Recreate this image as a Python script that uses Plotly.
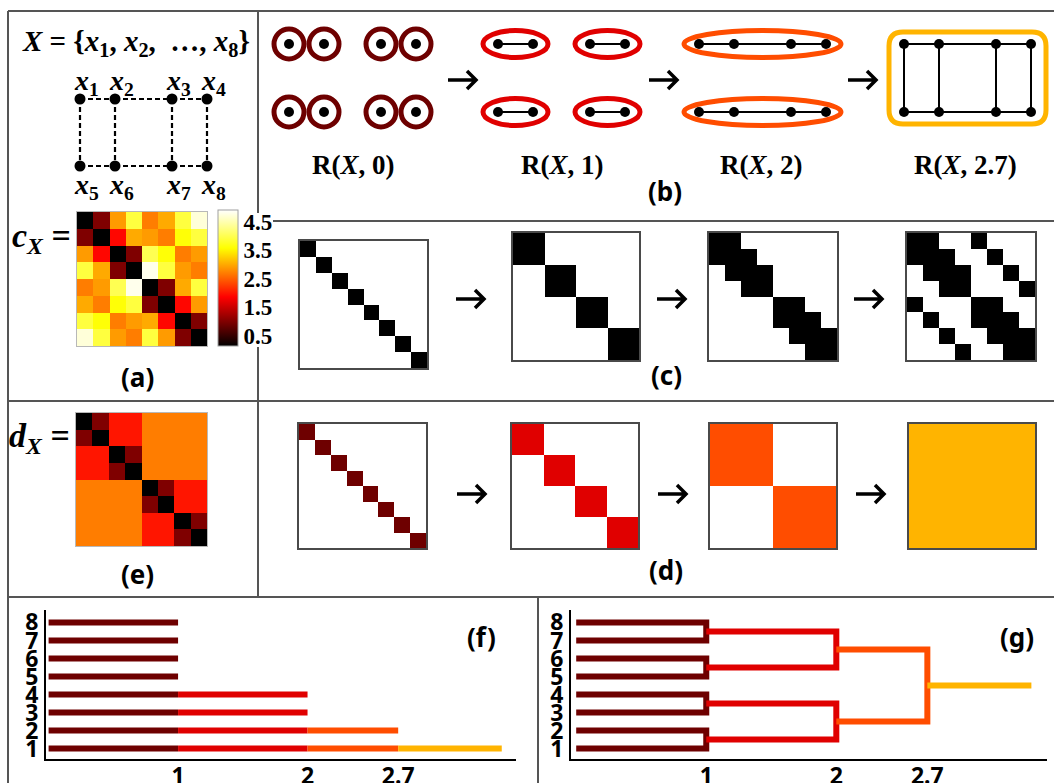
import plotly.graph_objects as go

W, H = 1054, 783

# ---------------------------------------------------------------- data
point_ids = [1, 2, 3, 4, 5, 6, 7, 8]

# pairwise cost c_X between the points x1..x8 (symmetric, zero diagonal)
c_rows = [
    [0.0, 1.0, 2.9, 3.9, 2.7, 3.0, 3.9, 4.7],
    [1.0, 0.0, 1.9, 3.0, 2.9, 2.7, 3.6, 3.9],
    [2.9, 1.9, 0.0, 1.0, 4.0, 3.6, 2.7, 2.9],
    [3.9, 3.0, 1.0, 0.0, 4.8, 3.9, 2.9, 2.7],
    [2.7, 2.9, 4.0, 4.8, 0.0, 1.0, 3.0, 3.9],
    [3.0, 2.7, 3.6, 3.9, 1.0, 0.0, 1.9, 2.9],
    [3.9, 3.6, 2.7, 2.9, 3.0, 1.9, 0.0, 1.0],
    [4.7, 3.9, 2.9, 2.7, 3.9, 2.9, 1.0, 0.0],
]

scales = [0, 1, 2, 2.7]                 # resolutions r of R(X, r)
scale_text = ["0", "1", "2", "2.7"]
bar_end = 3.5                           # right end of the last bar / root branch
state_colors = ["#6e0000", "#e00000", "#ff4d00", "#ffb400"]

heat_range = [0.15, 4.9]
hot_scale = [[0.0, "#000000"], [0.36, "#ff0000"], [0.72, "#ffff00"], [1.0, "#ffffff"]]
cbar_ticks = [0.5, 1.5, 2.5, 3.5, 4.5]
cbar_text = ["0.5", "1.5", "2.5", "3.5", "4.5"]
axis_ticks = [1, 2, 2.7]
axis_ticktext = ["1", "2", "2.7"]

SERIF = "Liberation Serif"
SANS = "Noto Sans"
N = len(point_ids)


# ------------------------------------------------------- derived structures
def components(r):
    parent = list(range(N))

    def find(a):
        while parent[a] != a:
            parent[a] = parent[parent[a]]
            a = parent[a]
        return a

    for i in range(N):
        for j in range(i + 1, N):
            if c_rows[i][j] <= r:
                parent[find(i)] = find(j)
    groups = {}
    for i in range(N):
        groups.setdefault(find(i), []).append(i)
    return sorted(groups.values(), key=lambda g: g[0])


def edges_at(r):
    return [(i, j) for i in range(N) for j in range(i + 1, N) if c_rows[i][j] <= r]


partitions = [components(r) for r in scales]


def merge_scale(i, j):
    for s, part in zip(scales, partitions):
        if any(i in g and j in g for g in part):
            return s
    return bar_end


d_rows = [[merge_scale(i, j) for j in range(N)] for i in range(N)]

# ------------------------------------------------------------ layout helpers
layout = dict(
    width=W, height=H, autosize=False, margin=dict(l=0, r=0, t=0, b=0, autoexpand=False),
    paper_bgcolor="white", plot_bgcolor="rgba(0,0,0,0)", showlegend=False,
    barmode="overlay", shapes=[], annotations=[],
)
traces = []
counter = [0]


def new_axes(box, xrange, yrange, xopt=None, yopt=None):
    counter[0] += 1
    k = counter[0]
    s = "" if k == 1 else str(k)
    x0, x1, y0, y1 = box
    base = dict(showgrid=False, zeroline=False, ticks="", showticklabels=False,
                fixedrange=True, automargin=False)
    xa = dict(base, domain=[x0 / W, x1 / W], range=xrange, anchor="y" + s)
    ya = dict(base, domain=[1 - y1 / H, 1 - y0 / H], range=yrange, anchor="x" + s)
    xa.update(xopt or {})
    ya.update(yopt or {})
    layout["xaxis" + s] = xa
    layout["yaxis" + s] = ya
    return "x" + s, "y" + s


def frame(color, width):
    return dict(showline=True, mirror=True, linecolor=color, linewidth=width)


def matrix(box, z, colorscale, zmin, zmax, fcolor, fwidth, **extra):
    xa, ya = new_axes(box, [0.5, N + 0.5], [N + 0.5, 0.5],
                      frame(fcolor, fwidth), frame(fcolor, fwidth))
    opts = dict(showscale=False)
    opts.update(extra)
    traces.append(go.Heatmap(z=z, x=point_ids, y=point_ids, colorscale=colorscale,
                             zmin=zmin, zmax=zmax, xaxis=xa, yaxis=ya,
                             hoverinfo="skip", **opts))


# ------------------------------------------------------------- (a) c_X heatmap
matrix((77, 207, 212, 346), c_rows, hot_scale, heat_range[0], heat_range[1], "#b8b8b8", 1,
       showscale=True,
       colorbar=dict(x=218 / W, xanchor="left", xpad=0, y=1 - 278 / H, yanchor="middle",
                     ypad=0, len=136, lenmode="pixels", thickness=20, thicknessmode="pixels",
                     outlinecolor="#a0a0a0", outlinewidth=1, tickvals=cbar_ticks,
                     ticktext=cbar_text, ticks="",
                     tickfont=dict(family=SERIF, size=23, color="black", weight="bold")))

# ------------------------------------------------------------- (e) d_X heatmap
matrix((76, 207, 413, 546), d_rows, hot_scale, heat_range[0], heat_range[1], "#b8b8b8", 1)

# ------------------------------------------------ (c) relations c_X <= r
c_boxes = [(300, 427, 241, 368), (513, 639, 233, 360), (709, 837, 233, 360), (907, 1035, 233, 360)]
for r, box in zip(scales, c_boxes):
    z = [[1 if c_rows[i][j] <= r else 0 for j in range(N)] for i in range(N)]
    matrix(box, z, [[0, "#ffffff"], [1, "#000000"]], 0, 1, "#4a4a4a", 2)

# ------------------------------------------------ (d) relations d_X <= r
d_boxes = [(299, 426, 424, 548), (512, 638, 424, 548), (710, 836, 424, 548), (909, 1035, 424, 548)]
for r, col, box in zip(scales, state_colors, d_boxes):
    z = [[1 if d_rows[i][j] <= r else 0 for j in range(N)] for i in range(N)]
    matrix(box, z, [[0, "#ffffff"], [1, col]], 0, 1, "#4a4a4a", 2)

# ------------------------------------------------ (f) barcode / (g) dendrogram
tick_font = dict(family=SANS, size=23, color="black", weight="bold")


def tree_axes(box, xrange):
    line = dict(showline=True, linecolor="black", linewidth=2, mirror=False,
                showticklabels=True, tickfont=tick_font)
    xo = dict(line, tickvals=axis_ticks, ticktext=axis_ticktext, ticklabelstandoff=-5)
    yo = dict(line, tickvals=point_ids, ticktext=[str(p) for p in point_ids], ticklabelstandoff=1)
    return new_axes(box, xrange, [0.42, 8.69], xo, yo)


fx, fy = tree_axes((46, 516, 610, 759), [-0.02, 3.61])
ends = scales[1:] + [bar_end]
for k, part in enumerate(partitions):
    rows = point_ids[:len(part)]
    traces.append(go.Bar(orientation="h", y=rows, x=[ends[k] - scales[k]] * len(rows),
                         base=[scales[k]] * len(rows), width=0.33,
                         marker=dict(color=state_colors[k], line=dict(width=0)),
                         xaxis=fx, yaxis=fy, hoverinfo="skip"))

gx, gy = tree_axes((571, 1047, 610, 759), [-0.04, 3.62])
nodes = {tuple(g): (0.0, float(g[0] + 1)) for g in partitions[0]}   # cluster -> (height, y)
for k in range(1, len(scales)):
    new_nodes = {}
    for g in partitions[k]:
        kids = sorted([c for c in nodes if set(c) <= set(g)], key=lambda c: nodes[c][1])
        if len(kids) == 1:
            new_nodes[tuple(g)] = nodes[kids[0]]
            continue
        h = scales[k]
        (ha, ya), (hb, yb) = nodes[kids[0]], nodes[kids[-1]]
        xs = [ha, h, h, hb]
        ys = [ya, ya, yb, yb]
        for mid in kids[1:-1]:
            hm, ym = nodes[mid]
            xs += [None, hm, h]
            ys += [None, ym, ym]
        traces.append(go.Scatter(x=xs, y=ys, mode="lines",
                                 line=dict(color=state_colors[k - 1], width=6),
                                 xaxis=gx, yaxis=gy, hoverinfo="skip"))
        new_nodes[tuple(g)] = (h, sum(nodes[c][1] for c in kids) / len(kids))
    nodes = new_nodes
root_h, root_y = list(nodes.values())[0]
traces.append(go.Scatter(x=[root_h, bar_end], y=[root_y, root_y], mode="lines",
                         line=dict(color=state_colors[-1], width=6),
                         xaxis=gx, yaxis=gy, hoverinfo="skip"))

# ------------------------------------------ pixel overlay for diagrams and text
px, py = new_axes((0, W, 0, H), [0, W], [H, 0], dict(visible=False), dict(visible=False))
shapes = layout["shapes"]
notes = layout["annotations"]

node_dx = [0, 35, 92, 127]


def node_pos(bx, by, dy, i):
    return bx + node_dx[i % 4], by + (i // 4) * dy


def seg(x0, y0, x1, y1, color="#555555", width=2):
    shapes.append(dict(type="line", xref=px, yref=py, x0=x0, y0=y0, x1=x1, y1=y1,
                       line=dict(color=color, width=width), layer="above"))


def arrow(cx, cy):
    x0, x1 = cx - 14, cx + 14
    path = f"M{x0},{cy} L{x1},{cy} M{x1 - 9},{cy - 9} L{x1},{cy} L{x1 - 9},{cy + 9}"
    shapes.append(dict(type="path", xref=px, yref=py, path=path,
                       line=dict(color="black", width=3.5)))


def text(x, y, s, size, family, **kw):
    notes.append(dict(x=x, y=y, xref=px, yref=py, text=s, showarrow=False,
                      font=dict(family=family, size=size, color="black"),
                      xanchor=kw.get("xanchor", "center"), yanchor="middle"))


# panel borders
seg(8, 11, W, 11)
seg(8, 11, 8, H)
seg(258, 11, 258, 213)
seg(258, 347, 258, 597)
seg(273, 221, W, 221)
seg(8, 401, W, 401)
seg(8, 597, W, 597)
seg(538, 597, 538, H)

# (a) the point set and its neighbourhood graph
text(136, 43, "<b><i>X</i> = {<i>x</i><sub>1</sub>, <i>x</i><sub>2</sub>, &nbsp;…, "
     "<i>x</i><sub>8</sub>}</b>", 29, SERIF)
ax_, ay_, ady = 80, 99, 67
gx_e, gy_e = [], []
for i, j in edges_at(scales[-1]):
    (x0, y0), (x1, y1) = node_pos(ax_, ay_, ady, i), node_pos(ax_, ay_, ady, j)
    gx_e += [x0, x1, None]
    gy_e += [y0, y1, None]
traces.append(go.Scatter(x=gx_e, y=gy_e, mode="lines",
                         line=dict(color="black", width=2.2, dash="5px,3px"),
                         xaxis=px, yaxis=py, hoverinfo="skip"))
pts = [node_pos(ax_, ay_, ady, i) for i in range(N)]
traces.append(go.Scatter(x=[p[0] for p in pts], y=[p[1] for p in pts], mode="markers",
                         marker=dict(color="black", size=11), xaxis=px, yaxis=py, hoverinfo="skip"))
for i, (x, y) in enumerate(pts):
    text(x + 6, y - 17 if i < 4 else y + 20, f"<b><i>x</i><sub>{point_ids[i]}</sub></b>", 28, SERIF)

text(41, 238, "<b><i>c</i><sub><i>X</i></sub> =</b>", 34, SERIF)
text(39, 438, "<b><i>d</i><sub><i>X</i></sub> =</b>", 34, SERIF)

# (b) the relations R(X, r) drawn on the graph
b_base = [289, 498, 699, 904]
b_y, b_dy = 44, 68
b_label_x = [353, 562, 761, 965]
for k, r in enumerate(scales):
    col = state_colors[k]
    bx = b_base[k]
    for g in partitions[k]:
        ps = [node_pos(bx, b_y, b_dy, i) for i in g]
        xs = [p[0] for p in ps]
        ys = [p[1] for p in ps]
        if len(set(ys)) > 1:
            x0, x1, y0, y1, rr = min(xs) - 15, max(xs) + 15, min(ys) - 12, max(ys) + 12, 14
            path = (f"M{x0 + rr},{y0} L{x1 - rr},{y0} Q{x1},{y0} {x1},{y0 + rr} "
                    f"L{x1},{y1 - rr} Q{x1},{y1} {x1 - rr},{y1} L{x0 + rr},{y1} "
                    f"Q{x0},{y1} {x0},{y1 - rr} L{x0},{y0 + rr} Q{x0},{y0} {x0 + rr},{y0} Z")
            shapes.append(dict(type="path", xref=px, yref=py, path=path,
                               line=dict(color=col, width=5), layer="below"))
        else:
            cx = (min(xs) + max(xs)) / 2
            hw = (max(xs) - min(xs)) / 2 + 15
            hh = 15 if len(g) == 1 else 13.5
            shapes.append(dict(type="circle", xref=px, yref=py, x0=cx - hw, x1=cx + hw,
                               y0=ys[0] - hh, y1=ys[0] + hh,
                               line=dict(color=col, width=5), layer="below"))
    ex, ey = [], []
    for i, j in edges_at(r):
        (x0, y0), (x1, y1) = node_pos(bx, b_y, b_dy, i), node_pos(bx, b_y, b_dy, j)
        ex += [x0, x1, None]
        ey += [y0, y1, None]
    if ex:
        traces.append(go.Scatter(x=ex, y=ey, mode="lines", line=dict(color="black", width=2),
                                 xaxis=px, yaxis=py, hoverinfo="skip"))
    ps = [node_pos(bx, b_y, b_dy, i) for i in range(N)]
    traces.append(go.Scatter(x=[p[0] for p in ps], y=[p[1] for p in ps], mode="markers",
                             marker=dict(color="black", size=10), xaxis=px, yaxis=py,
                             hoverinfo="skip"))
    text(b_label_x[k], 165, f"<b>R(<i>X</i>, {scale_text[k]})</b>", 27, SERIF)

for cx in [462, 663, 862]:
    arrow(cx, 80)
for cx in [470, 671, 868]:
    arrow(cx, 299)
for cx in [471, 672, 870]:
    arrow(cx, 494)

# panel letters
for lab, x, y in [("(a)", 137, 377), ("(b)", 665, 191), ("(c)", 666, 375), ("(d)", 666, 570),
                  ("(e)", 137, 574), ("(f)", 481, 637), ("(g)", 1017, 637)]:
    text(x, y, f"<b>{lab}</b>", 26, SANS)

fig = go.Figure(data=traces, layout=layout)
fig.write_html("out.html")
